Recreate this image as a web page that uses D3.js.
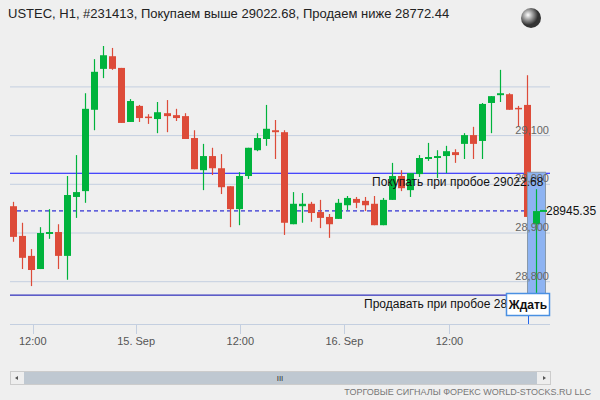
<!DOCTYPE html>
<html><head><meta charset="utf-8">
<script src="https://cdn.jsdelivr.net/npm/d3@7"></script>
<style>body{margin:0;background:#efefef}svg{display:block;font-family:"Liberation Sans",Arial,sans-serif}</style>
</head><body><svg id="c" width="600" height="400"></svg>
<script>
// hourly candles, USTEC H1
var opens  = [28955,28894,28853,28826,28898,28902,28853,28974,28986,29153,29237,29263,29239,29128,29161,29139,29134,29146,29142,29140,29095,29029,29058,29033,28996,28949,29017,29070,29093,29111,29107,28918,28955,28960,28943,28933,28929,28957,28970,28966,28960,28916,28968,29017,28988,29021,29052,29054,29058,29066,29083,29101,29089,29167,29183,29185,29157,29163,28918];
var highs  = [28964,28921,28867,28912,28949,28918,29017,29060,29187,29257,29284,29280,29239,29175,29163,29144,29169,29173,29155,29146,29111,29083,29075,29062,28996,29025,29075,29105,29163,29132,29111,28984,28982,28964,28968,28939,28970,28976,28974,28974,28976,28972,29044,29029,29023,29060,29085,29070,29079,29072,29105,29118,29167,29181,29235,29187,29161,29224,28990];
var lows   = [28882,28826,28791,28826,28888,28826,28804,28931,28962,29111,29218,29235,29126,29128,29128,29124,29105,29107,29130,29093,29031,28988,29019,28980,28912,28916,29011,29068,29079,29052,28896,28918,28921,28923,28910,28890,28929,28947,28951,28945,28916,28916,28968,28986,28974,29015,29048,29013,29023,29044,29052,29052,29052,29105,29169,29153,29118,28933,28777];
var closes = [28892,28849,28824,28900,28902,28853,28978,28984,29155,29231,29265,29237,29126,29171,29136,29137,29148,29140,29136,29093,29031,29058,29033,28994,28949,29017,29075,29095,29114,29107,28921,28960,28960,28941,28931,28918,28962,28972,28962,28957,28916,28968,29017,28992,29023,29054,29056,29058,29068,29060,29101,29083,29165,29181,29187,29153,29155,28933,28945];
var timeTicks = [2.16, 13.63, 25.19, 36.74, 48.4];
var timeLabels = ["12:00","15. Sep","12:00","16. Sep","12:00"];
var priceTicks = [28800, 28900, 29000, 29100, 29200];
var buyLevel = 29022.68, sellLevel = 28772.44, lastPrice = 28945.35;

var svg = d3.select("#c");
var x = d3.scaleLinear().domain([0, 58]).range([13.3, 536]);
var y = d3.scaleLinear().domain([28900, 29100]).range([233, 135.6]);
var left = 10, right = 550;

svg.append("text").attr("x", 8).attr("y", 18).attr("font-size", 13).attr("fill", "#222")
  .text("USTEC, H1, #231413, Покупаем выше 29022.68, Продаем ниже 28772.44");

// globe icon
var g0 = svg.append("defs").append("radialGradient").attr("id", "gl").attr("cx", "35%").attr("cy", "35%");
g0.append("stop").attr("offset", "0%").attr("stop-color", "#fff");
g0.append("stop").attr("offset", "100%").attr("stop-color", "#333");
svg.append("circle").attr("cx", 531).attr("cy", 18).attr("r", 10).attr("fill", "url(#gl)");

// grid
svg.selectAll(".grid").data(priceTicks).enter().append("line")
  .attr("x1", left).attr("x2", right).attr("y1", d => y(d)).attr("y2", d => y(d))
  .attr("stroke", "#c4cfe0").attr("stroke-width", 1);

// x axis
svg.append("line").attr("x1", left).attr("x2", right).attr("y1", 324.5).attr("y2", 324.5).attr("stroke", "#c4cfe0");
svg.selectAll(".xt").data(timeTicks).enter().append("line")
  .attr("x1", d => Math.round(x(d)) + 0.5).attr("x2", d => Math.round(x(d)) + 0.5)
  .attr("y1", 324).attr("y2", 334).attr("stroke", "#c4cfe0");
svg.selectAll(".xl").data(timeTicks).enter().append("text")
  .attr("x", d => x(d)).attr("y", 345).attr("text-anchor", "middle").attr("font-size", 11).attr("fill", "#555")
  .text((d, i) => timeLabels[i]);

// buy / sell / last price lines
svg.append("line").attr("x1", left).attr("x2", right).attr("y1", y(buyLevel)).attr("y2", y(buyLevel)).attr("stroke", "#1010ff").attr("stroke-width", 1);
svg.append("line").attr("x1", left).attr("x2", right).attr("y1", y(sellLevel)).attr("y2", y(sellLevel)).attr("stroke", "#0000b0").attr("stroke-width", 1);
svg.append("line").attr("x1", left).attr("x2", 545).attr("y1", y(lastPrice)).attr("y2", y(lastPrice))
  .attr("stroke", "#0000cc").attr("stroke-dasharray", "4,3");

// candles
var idx = d3.range(opens.length);
svg.selectAll(".wick").data(idx).enter().append("line")
  .attr("x1", i => Math.round(x(i)) + 0.5).attr("x2", i => Math.round(x(i)) + 0.5)
  .attr("y1", i => y(highs[i])).attr("y2", i => y(lows[i]))
  .attr("stroke", i => closes[i] >= opens[i] ? "#00b33c" : "#dd4b39").attr("stroke-width", 1.2);
svg.selectAll(".body").data(idx).enter().append("rect")
  .attr("x", i => Math.round(x(i)) - 3).attr("width", 7)
  .attr("y", i => y(Math.max(opens[i], closes[i])))
  .attr("height", i => Math.max(1.5, Math.abs(y(opens[i]) - y(closes[i]))))
  .attr("fill", i => closes[i] >= opens[i] ? "#00b33c" : "#dd4b39");

// wait zone
svg.append("rect").attr("x", 527.5).attr("y", y(buyLevel) - 1).attr("width", 18).attr("height", y(sellLevel) - y(buyLevel) + 1)
  .attr("fill", "#8db3f2").attr("stroke", "#8899aa");
var li = opens.length - 1;
svg.append("line").attr("x1", Math.round(x(li)) + 0.5).attr("x2", Math.round(x(li)) + 0.5)
  .attr("y1", y(highs[li])).attr("y2", y(lows[li])).attr("stroke", "#00b33c").attr("stroke-width", 1.2);
svg.append("rect").attr("x", Math.round(x(li)) - 3).attr("width", 7).attr("y", y(closes[li]))
  .attr("height", y(opens[li]) - y(closes[li])).attr("fill", "#00b33c");
svg.append("rect").attr("x", 540).attr("y", y(lastPrice) - 1).attr("width", 7).attr("height", 2).attr("fill", "#00b33c");

// price labels
svg.selectAll(".yl").data(priceTicks.filter(d => d !== 29200)).enter().append("text")
  .attr("x", 549).attr("y", d => y(d) - 2).attr("text-anchor", "end").attr("font-size", 11).attr("fill", "#666")
  .text(d => d3.format(",")(d));

svg.append("text").attr("x", 372).attr("y", y(buyLevel) + 13).attr("font-size", 12).attr("fill", "#111")
  .text("Покупать при пробое " + buyLevel.toFixed(2));
svg.append("text").attr("x", 546).attr("y", y(lastPrice) + 4).attr("font-size", 12).attr("fill", "#111")
  .text(lastPrice.toFixed(2));
svg.append("text").attr("x", 364).attr("y", y(sellLevel) + 13).attr("font-size", 12).attr("fill", "#111")
  .text("Продавать при пробое " + sellLevel.toFixed(2));

svg.append("rect").attr("x", 506.5).attr("y", 293.5).attr("width", 43).attr("height", 22)
  .attr("fill", "#fff").attr("stroke", "#4a90e2").attr("stroke-width", 1.5);
svg.append("text").attr("x", 528).attr("y", 309).attr("text-anchor", "middle").attr("font-size", 12)
  .attr("font-weight", "bold").attr("fill", "#111").text("Ждать");
svg.append("line").attr("x1", 528.5).attr("x2", 528.5).attr("y1", 316).attr("y2", 324).attr("stroke", "#2266ee");

// scrollbar
svg.append("rect").attr("x", 10.5).attr("y", 371.5).attr("width", 540).attr("height", 13).attr("fill", "#eee").attr("stroke", "#ccc");
svg.append("rect").attr("x", 24).attr("y", 372).attr("width", 513).attr("height", 12).attr("fill", "#bfc8d1");
svg.append("text").attr("x", 280).attr("y", 381).attr("text-anchor", "middle").attr("font-size", 8).attr("fill", "#333").text("III");
svg.append("path").attr("d", "M18,376 L15,378 L18,380 Z").attr("fill", "#555");
svg.append("path").attr("d", "M543,376 L546,378 L543,380 Z").attr("fill", "#555");
svg.append("text").attr("x", 591).attr("y", 395).attr("text-anchor", "end").attr("font-size", 9).attr("fill", "#777")
  .text("ТОРГОВЫЕ СИГНАЛЫ ФОРЕКС WORLD-STOCKS.RU LLC");
</script></body></html>
